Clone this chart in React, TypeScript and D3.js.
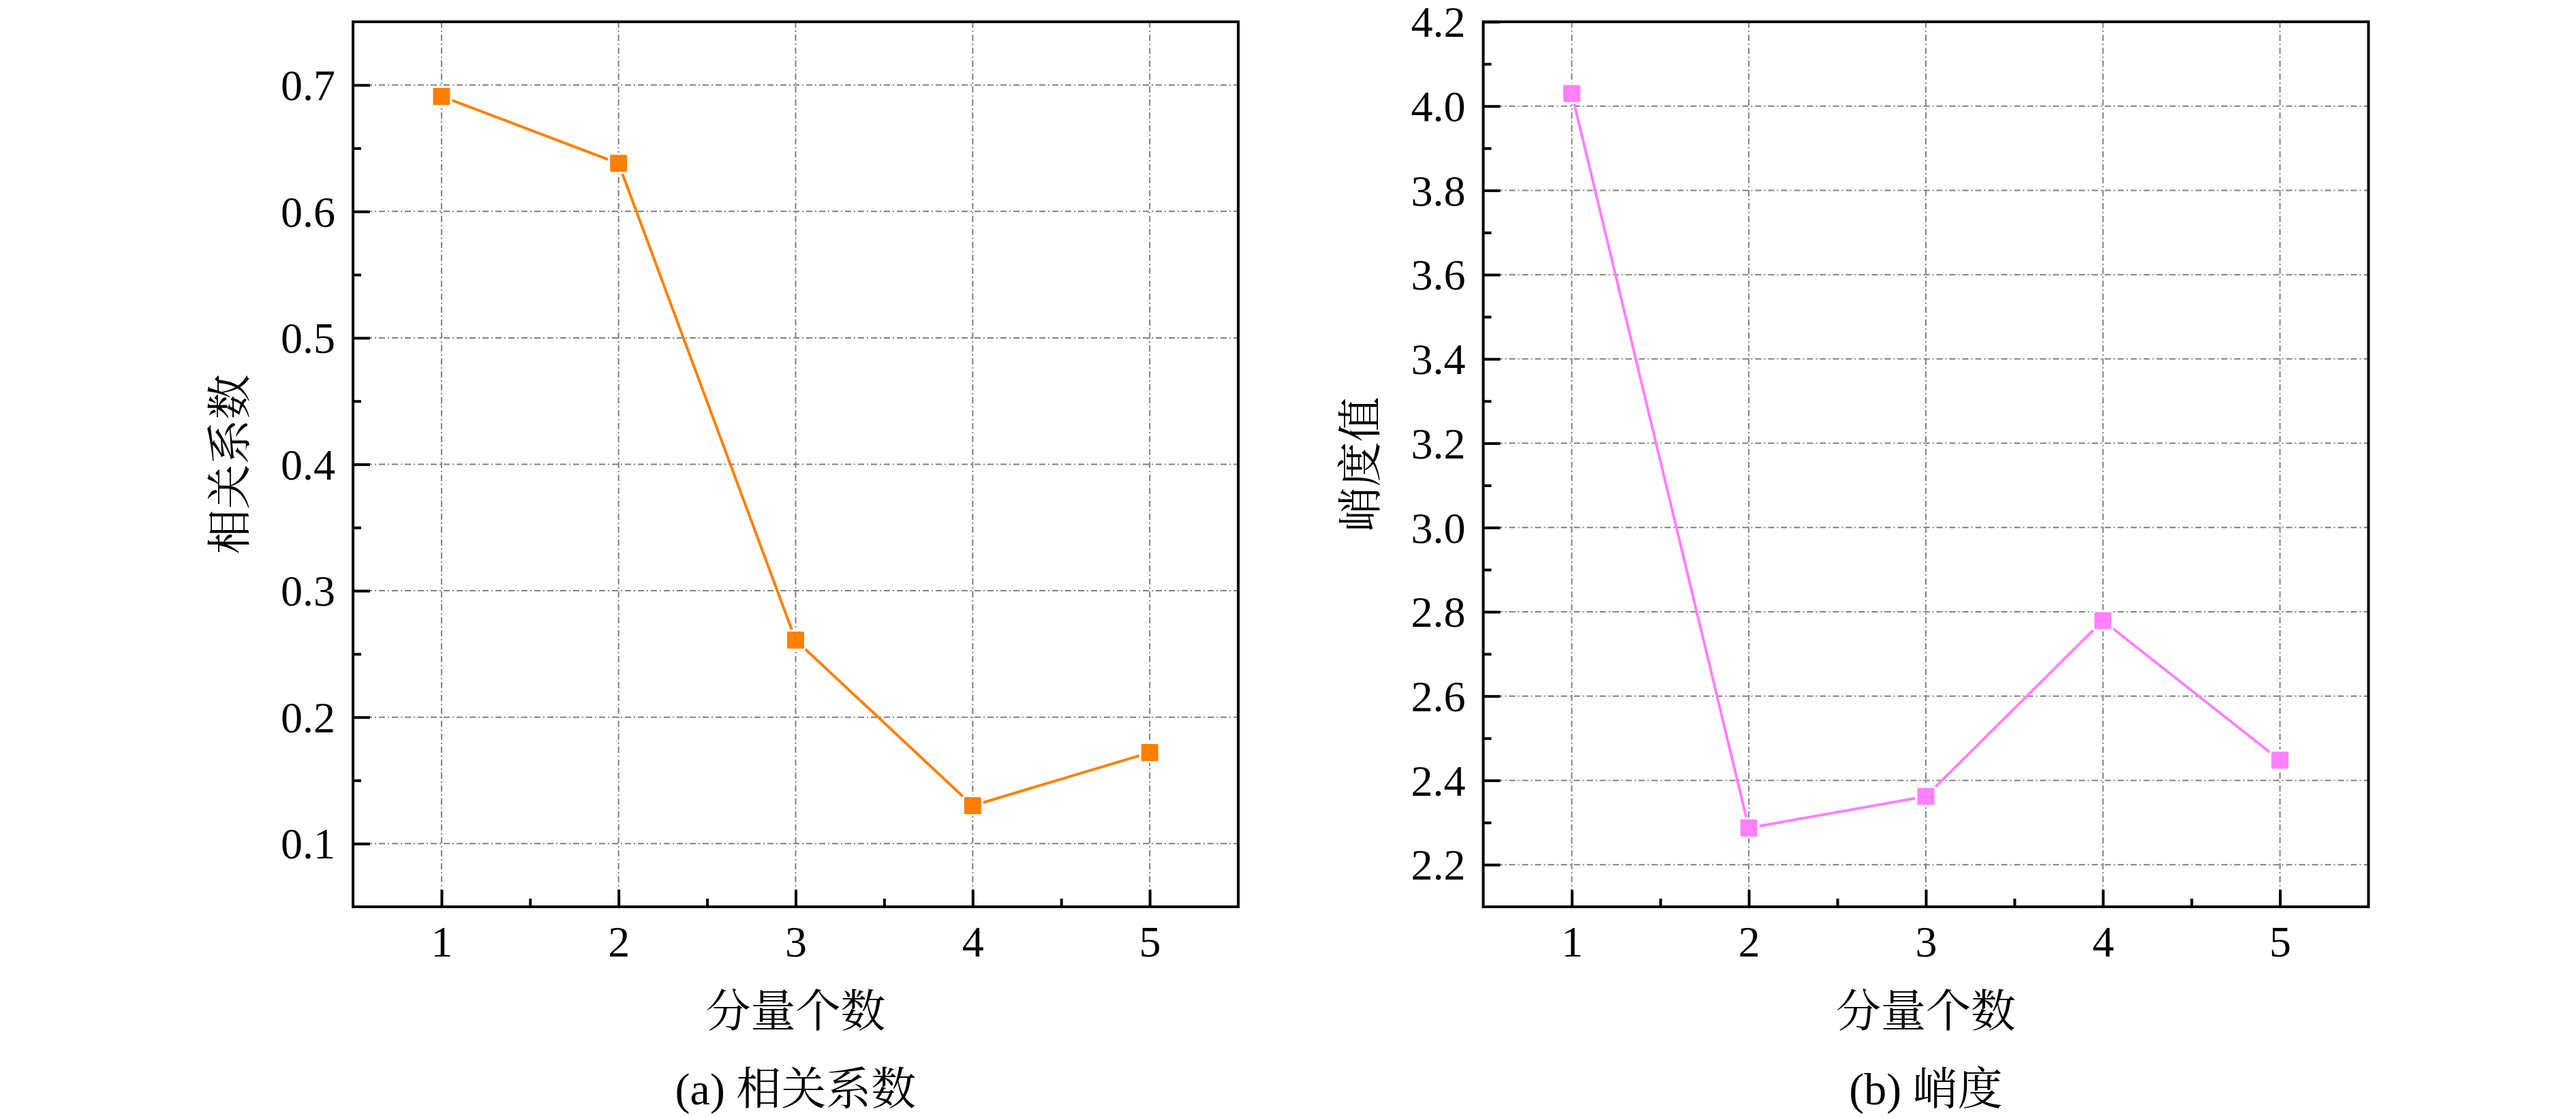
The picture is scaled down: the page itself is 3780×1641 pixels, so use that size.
import React, { useRef, useEffect } from "react";
import * as d3 from "d3";

// data
const components = [1, 2, 3, 4, 5];
const correlation = [0.691, 0.638, 0.261, 0.13, 0.172];
const kurtosis = [4.03, 2.287, 2.362, 2.779, 2.448];

const corrTicks = [0.1, 0.2, 0.3, 0.4, 0.5, 0.6, 0.7];
const corrMinor = [0.15, 0.25, 0.35, 0.45, 0.55, 0.65];
const kurtTicks = [2.2, 2.4, 2.6, 2.8, 3.0, 3.2, 3.4, 3.6, 3.8, 4.0, 4.2];
const kurtMinor = [2.3, 2.5, 2.7, 2.9, 3.1, 3.3, 3.5, 3.7, 3.9, 4.1];
const xMinor = [1.5, 2.5, 3.5, 4.5];

const FONT =
  "'Liberation Serif', 'Times New Roman', 'Noto Serif CJK SC', 'Noto Sans CJK SC', serif";

interface PanelProps {
  x0: number;
  values: number[];
  yDomain: [number, number];
  yTicks: number[];
  yMinor: number[];
  color: string;
  yLabel: string;
  caption: string;
}

const Panel: React.FC<PanelProps> = ({
  x0,
  values,
  yDomain,
  yTicks,
  yMinor,
  color,
  yLabel,
  caption,
}) => {
  const ref = useRef<SVGGElement>(null);

  useEffect(() => {
    const g = d3.select(ref.current);
    g.selectAll("*").remove();

    const width = 1299,
      height = 1299;

    const x = d3.scaleLinear().domain([0.5, 5.5]).range([0, width]);
    const y = d3.scaleLinear().domain(yDomain).range([height, 0]);

    // Grid lines (dash-dot)
    const grid = g.append("g");
    grid
      .selectAll("line.h")
      .data(yTicks)
      .enter()
      .append("line")
      .attr("x1", 0)
      .attr("x2", width)
      .attr("y1", (d) => y(d))
      .attr("y2", (d) => y(d))
      .attr("stroke", "#808080")
      .attr("stroke-width", 2)
      .attr("stroke-dasharray", "9,4,2,4");
    grid
      .selectAll("line.v")
      .data(components)
      .enter()
      .append("line")
      .attr("x1", (d) => x(d))
      .attr("x2", (d) => x(d))
      .attr("y1", 0)
      .attr("y2", height)
      .attr("stroke", "#808080")
      .attr("stroke-width", 2)
      .attr("stroke-dasharray", "9,4,2,4");

    // Axes, ticks pointing inward
    const styleAxis = (sel: any) => {
      sel.select(".domain").remove();
      sel.selectAll("line").attr("stroke", "#000").attr("stroke-width", 4);
      sel
        .selectAll("text")
        .attr("fill", "#000")
        .style("font-family", FONT)
        .style("font-size", "64px");
    };

    g.append("g")
      .attr("transform", `translate(0,${height})`)
      .call(
        d3
          .axisBottom(x)
          .tickValues(components)
          .tickSize(-25)
          .tickPadding(28)
          .tickFormat(d3.format("d"))
      )
      .call(styleAxis);
    g.append("g")
      .attr("transform", `translate(0,${height})`)
      .call(d3.axisBottom(x).tickValues(xMinor).tickSize(-12).tickFormat(() => ""))
      .call(styleAxis);

    g.append("g")
      .call(
        d3
          .axisLeft(y)
          .tickValues(yTicks)
          .tickSize(-25)
          .tickPadding(26)
          .tickFormat(d3.format(".1f"))
      )
      .call(styleAxis)
      .selectAll("text")
      .attr("dy", "0.34em");
    g.append("g")
      .call(d3.axisLeft(y).tickValues(yMinor).tickSize(-12).tickFormat(() => ""))
      .call(styleAxis);

    // Frame
    g.append("rect")
      .attr("x", 0)
      .attr("y", 0)
      .attr("width", width)
      .attr("height", height)
      .attr("fill", "none")
      .attr("stroke", "#000")
      .attr("stroke-width", 4);

    // Line
    const pts = components.map((c, i) => ({ c, v: values[i] }));
    const line = d3
      .line<{ c: number; v: number }>()
      .x((d) => x(d.c))
      .y((d) => y(d.v));
    g.append("path")
      .datum(pts)
      .attr("fill", "none")
      .attr("stroke", color)
      .attr("stroke-width", 4)
      .attr("stroke-linejoin", "round")
      .attr("d", line);

    // Square markers, white ring leaves a small gap to the line
    g.selectAll("rect.mk")
      .data(pts)
      .enter()
      .append("rect")
      .attr("x", (d) => x(d.c) - 14)
      .attr("y", (d) => y(d.v) - 14)
      .attr("width", 28)
      .attr("height", 28)
      .attr("rx", 3)
      .attr("fill", color)
      .attr("stroke", "#fff")
      .attr("stroke-width", 3);

    // Y axis title
    g.append("text")
      .attr("transform", `translate(-158,${height / 2}) rotate(-90)`)
      .attr("text-anchor", "middle")
      .style("font-family", FONT)
      .style("font-size", "66px")
      .attr("fill", "#000")
      .text(yLabel);

    // X axis title
    g.append("text")
      .attr("x", width / 2)
      .attr("y", height + 176)
      .attr("text-anchor", "middle")
      .style("font-family", FONT)
      .style("font-size", "66px")
      .attr("fill", "#000")
      .text("分量个数");

    // Caption
    g.append("text")
      .attr("x", width / 2)
      .attr("y", height + 290)
      .attr("text-anchor", "middle")
      .style("font-family", FONT)
      .style("font-size", "66px")
      .attr("fill", "#000")
      .text(caption);
  }, [x0, values, yDomain, yTicks, yMinor, color, yLabel, caption]);

  return <g ref={ref} transform={`translate(${x0},32)`} />;
};

const App: React.FC = () => {
  return (
    <svg
      width={3780}
      height={1641}
      style={{ position: "absolute", left: 0, top: 0, display: "block", background: "#fff" }}
    >
      <rect x={0} y={0} width={3780} height={1641} fill="#fff" />
      <Panel
        x0={518}
        values={correlation}
        yDomain={[0.05, 0.75]}
        yTicks={corrTicks}
        yMinor={corrMinor}
        color="#FF8000"
        yLabel="相关系数"
        caption="(a) 相关系数"
      />
      <Panel
        x0={2176.5}
        values={kurtosis}
        yDomain={[2.1, 4.2]}
        yTicks={kurtTicks}
        yMinor={kurtMinor}
        color="#FF80FF"
        yLabel="峭度值"
        caption="(b) 峭度"
      />
    </svg>
  );
};

export default App;
